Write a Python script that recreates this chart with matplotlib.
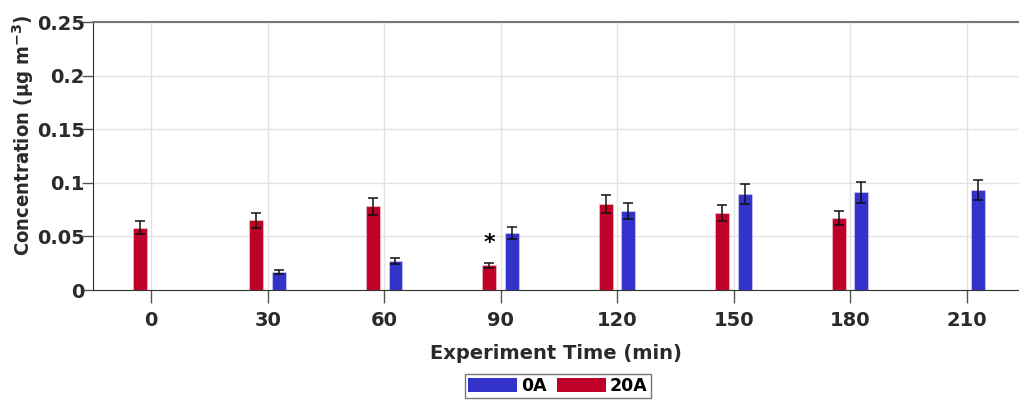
import matplotlib.pyplot as plt
import numpy as np
from matplotlib.patches import Patch

# concentration per sampling time, two current settings
times = [0, 30, 60, 90, 120, 150, 180, 210]
conc_20a = [0.058, 0.065, 0.078, 0.023, 0.080, 0.0715, 0.067, np.nan]
err_20a = [0.006, 0.007, 0.008, 0.0025, 0.0084, 0.0075, 0.0068, np.nan]
conc_0a = [np.nan, 0.017, 0.0273, 0.053, 0.0737, 0.0896, 0.091, 0.0933]
err_0a = [np.nan, 0.002, 0.003, 0.0056, 0.0078, 0.0093, 0.0094, 0.0096]
star_time, star_value = 90, 0.044

blue = "#3333cc"
red = "#bf0028"
txt = "#2a2a2a"

plt.rcParams["font.family"] = ["DejaVu Sans"]
plt.rcParams["font.weight"] = "bold"
plt.rcParams["mathtext.default"] = "bf"

W, H = 1019, 403
fig = plt.figure(figsize=(W / 100, H / 100), dpi=100)
ax = fig.add_axes([93 / W, (H - 290) / H, (1019.5 - 93) / W, 268 / H])

t = np.array(times, dtype=float)
bw = 3.6
off = 2.9
ax.bar(t - off, conc_20a, width=bw, color=red, edgecolor=(1, 1, 1, 0.35), linewidth=0.8, zorder=3)
ax.bar(t + off, conc_0a, width=bw, color=blue, edgecolor=(1, 1, 1, 0.35), linewidth=0.8, zorder=3)
ax.errorbar(t - off, conc_20a, yerr=err_20a, fmt="none", ecolor="#111111", elinewidth=1.1,
            capsize=3.6, capthick=1.1, zorder=4)
ax.errorbar(t + off, conc_0a, yerr=err_0a, fmt="none", ecolor="#111111", elinewidth=1.1,
            capsize=3.6, capthick=1.1, zorder=4)
ax.text(star_time - off, star_value, "*", ha="center", va="center", fontsize=16,
        fontweight="bold", color="black", zorder=5)

ax.set_xlim(-15, 223.6)
ax.set_ylim(0, 0.25)
ax.set_xticks(times)
ax.set_xticklabels([str(v) for v in times])
ax.set_yticks([0, 0.05, 0.1, 0.15, 0.2, 0.25])
ax.set_yticklabels(["0", "0.05", "0.1", "0.15", "0.2", "0.25"])
ax.grid(True, color="#e2e2e2", linewidth=1.0, zorder=0)
ax.set_axisbelow(True)

ax.tick_params(axis="x", length=9, width=1, color="#555555", pad=6, labelsize=14, labelcolor=txt)
ax.tick_params(axis="y", length=8, width=1, color="#555555", pad=-2, labelsize=14, labelcolor=txt)
for lab in ax.get_xticklabels() + ax.get_yticklabels():
    lab.set_fontweight("bold")

ax.spines["right"].set_visible(False)
ax.spines["top"].set_color("#777777")
ax.spines["top"].set_linewidth(1.5)
ax.spines["left"].set_color("#333333")
ax.spines["bottom"].set_color("#333333")

ax.set_xlabel("Experiment Time (min)", fontsize=14, fontweight="bold", color=txt, labelpad=10)
ax.set_ylabel("Concentration (µg m$^{-3}$)", fontsize=14.5, fontweight="bold",
              fontstretch="condensed", color=txt)
ax.yaxis.set_label_coords(-0.062, 0.577)

handles = [Patch(facecolor=blue, edgecolor="none", label="0A"),
           Patch(facecolor=red, edgecolor="none", label="20A")]
leg = fig.legend(handles=handles, loc="center", bbox_to_anchor=(558 / W, (H - 386) / H), ncol=2,
                 frameon=True, fancybox=False, edgecolor="#555555", fontsize=12.5,
                 handlelength=2.8, handleheight=0.85, columnspacing=0.6, handletextpad=0.25,
                 borderpad=0.2, borderaxespad=0)
leg.get_frame().set_linewidth(1.0)
for tx in leg.get_texts():
    tx.set_fontweight("bold")

fig.savefig("out.png", dpi=100)
